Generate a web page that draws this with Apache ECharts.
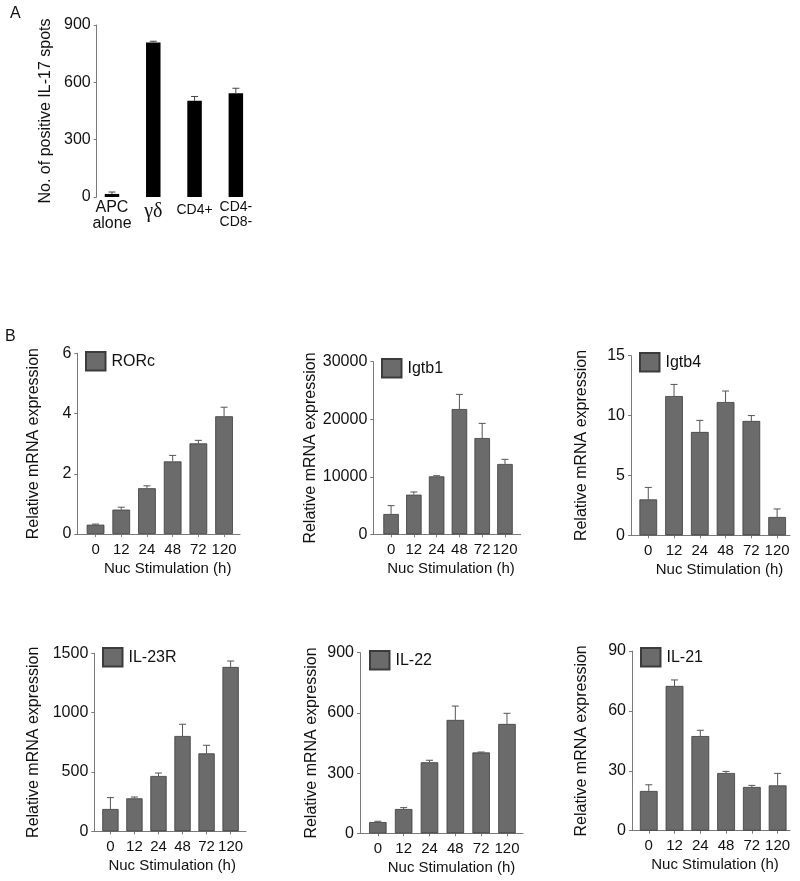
<!DOCTYPE html>
<html>
<head>
<meta charset="utf-8">
<script src="https://cdn.jsdelivr.net/npm/echarts@6/dist/echarts.min.js"></script>
<style>html,body{margin:0;padding:0;background:#fff}#c{width:800px;height:881px}</style>
</head>
<body>
<div id="c"></div>
<script>
// ---------- data ----------
const cellTypes = ['APC alone', 'γδ', 'CD4+', 'CD4- CD8-'];
const il17Spots = [16, 808, 503, 543];
const il17SpotsErrTop = [26, 815, 526, 569];

const timeLabels = ['0', '12', '24', '48', '72', '120'];
const rorc = [0.31, 0.81, 1.52, 2.41, 3.01, 3.91];
const rorcErrTop = [0.33, 0.89, 1.60, 2.61, 3.11, 4.21];
const igtb1 = [3530, 6890, 10070, 21770, 16730, 12220];
const igtb1ErrTop = [4980, 7350, 10190, 24320, 19280, 13030];
const igtb4 = [3.0, 11.63, 8.63, 11.13, 9.55, 1.53];
const igtb4ErrTop = [4.0, 12.6, 9.6, 12.05, 10.0, 2.2];
const il23r = [188, 278, 466, 803, 657, 1385];
const il23rErrTop = [284, 289, 491, 902, 725, 1435];
const il22 = [56, 121, 354, 565, 403, 545];
const il22ErrTop = [60, 128, 364, 634, 405, 598];
const il21 = [19.9, 72.5, 47.4, 28.9, 21.9, 22.7];
const il21ErrTop = [23.0, 75.5, 50.3, 29.7, 22.7, 28.7];

// ---------- layout ----------
const FONT = 'Liberation Sans, Arial, Helvetica, sans-serif';
const panels = [
  {name:'RORc', vals:rorc, errs:rorcErrTop, yMax:6, yInt:2, left:77.3, top:353.3, width:162.7, height:180.7, xMin:-0.71, xMax:5.62, barW:17.7, yGap:36, xShift:9, lg:[85,351]},
  {name:'Igtb1', vals:igtb1, errs:igtb1ErrTop, yMax:30000, yInt:10000, left:373.3, top:361.7, width:147.4, height:172.6, xMin:-0.78, xMax:5.69, barW:15.5, yGap:54.5, xShift:4, lg:[381,358]},
  {name:'Igtb4', vals:igtb4, errs:igtb4ErrTop, yMax:15, yInt:5, left:631, top:355.7, width:159, height:179.6, xMin:-0.67, xMax:5.5, barW:17.7, yGap:41.5, xShift:9, lg:[639,352]},
  {name:'IL-23R', vals:il23r, errs:il23rErrTop, yMax:1500, yInt:500, left:94.3, top:653.3, width:151.7, height:178, xMin:-0.67, xMax:5.64, barW:16.3, yGap:53, xShift:2, lg:[102,647]},
  {name:'IL-22', vals:il22, errs:il22ErrTop, yMax:900, yInt:300, left:360, top:652.7, width:163, height:180.6, xMin:-0.69, xMax:5.62, barW:17.5, yGap:40.5, xShift:10, lg:[369,650]},
  {name:'IL-21', vals:il21, errs:il21ErrTop, yMax:90, yInt:30, left:632, top:651, width:158, height:179.7, xMin:-0.65, xMax:5.48, barW:17.8, yGap:42.5, xShift:4, lg:[640,647]}
];

const grids = [], xAxes = [], yAxes = [], series = [], legends = [];

function errRender(color) {
  return function (params, api) {
    const i = api.value(0);
    const p1 = api.coord([i, api.value(1)]);
    const p2 = api.coord([i, api.value(2)]);
    const hw = 3.5;
    return {
      type: 'group',
      children: [
        {type:'line', shape:{x1:p1[0], y1:p1[1], x2:p2[0], y2:p2[1]}, style:{stroke:color, lineWidth:1}},
        {type:'line', shape:{x1:p2[0]-hw, y1:p2[1], x2:p2[0]+hw, y2:p2[1]}, style:{stroke:color, lineWidth:1}}
      ]
    };
  };
}

const axisColor = '#7a7a7a';

// Panel A
grids.push({left:96.7, top:25, width:159.8, height:172});
xAxes.push({
  gridIndex:0, type:'value', min:-0.37, max:3.5,
  axisLine:{show:false, onZero:false}, axisTick:{show:false}, splitLine:{show:false},
  axisLabel:{
    customValues:[0,1,2,3], margin:3, color:'#111', fontFamily:FONT, verticalAlign:'top',
    formatter: function (v) {
      const i = Math.round(v);
      const parts = cellTypes[i].split(' ');
      if (i === 1) return '{g|' + cellTypes[i] + '}';
      if (i === 0) return parts.map(p => '{a|' + p + '}').join('\n');
      if (i === 2) return '{d|' + cellTypes[i] + '}';
      return parts.map(p => '{c|' + p + '}').join('\n');
    },
    rich:{
      a:{fontSize:16, fontFamily:FONT, color:'#111', lineHeight:16},
      c:{fontSize:14, fontFamily:FONT, color:'#111', lineHeight:15},
      d:{fontSize:14, fontFamily:FONT, color:'#111', lineHeight:15, padding:[5,0,0,0]},
      g:{fontSize:20, fontFamily:'Liberation Serif, Times New Roman, serif', color:'#111', lineHeight:20, padding:[3,0,0,0]}
    }
  }
});
yAxes.push({
  gridIndex:0, type:'value', min:0, max:900, interval:300,
  name:'No. of positive IL-17 spots', nameLocation:'middle', nameGap:43.5,
  nameTextStyle:{fontSize:16, fontFamily:FONT, color:'#111'},
  axisLine:{show:true, onZero:false, lineStyle:{color:axisColor, width:1}},
  axisTick:{show:true, length:3, lineStyle:{color:axisColor}},
  splitLine:{show:false},
  axisLabel:{fontSize:16, fontFamily:FONT, color:'#111', margin:6, formatter: v => String(v)}
});
series.push({
  name:'IL-17', type:'bar', xAxisIndex:0, yAxisIndex:0, barWidth:14.5,
  data: il17Spots.map((v, i) => [i, v]),
  itemStyle:{color:'#000'}, silent:true, animation:false
});
series.push({
  name:'IL-17 err', type:'custom', xAxisIndex:0, yAxisIndex:0,
  data: il17Spots.map((v, i) => [i, v, il17SpotsErrTop[i]]),
  renderItem: errRender('#444'), silent:true, animation:false, z:3
});

// Panel B
panels.forEach((p, k) => {
  const gi = k + 1;
  grids.push({left:p.left, top:p.top, width:p.width, height:p.height});
  xAxes.push({
    gridIndex:gi, type:'value', min:p.xMin, max:p.xMax,
    name:'Nuc Stimulation (h)', nameLocation:'middle', nameGap:27,
    nameTextStyle:{fontSize:15, fontFamily:FONT, color:'#111', padding:[0,0,0,2*p.xShift]},
    axisLine:{show:true, onZero:false, lineStyle:{color:axisColor, width:1}},
    axisTick:{show:true, customValues:[0,1,2,3,4,5], length:3, lineStyle:{color:axisColor}},
    splitLine:{show:false},
    axisLabel:{
      customValues:[0,1,2,3,4,5], margin:8, fontSize:15, fontFamily:FONT, color:'#111',
      formatter: v => timeLabels[Math.round(v)]
    }
  });
  yAxes.push({
    gridIndex:gi, type:'value', min:0, max:p.yMax, interval:p.yInt,
    name:'Relative mRNA expression', nameLocation:'middle', nameGap:p.yGap,
    nameTextStyle:{fontSize:16, fontFamily:FONT, color:'#111'},
    axisLine:{show:true, onZero:false, lineStyle:{color:axisColor, width:1}},
    axisTick:{show:true, length:3, lineStyle:{color:axisColor}},
    splitLine:{show:false},
    axisLabel:{fontSize:16, fontFamily:FONT, color:'#111', margin:6, formatter: v => String(v)}
  });
  series.push({
    name:p.name, type:'bar', xAxisIndex:gi, yAxisIndex:gi, barWidth:p.barW,
    data: p.vals.map((v, i) => [i, v]),
    itemStyle:{color:'#6b6b6b', borderColor:'#3c3c3c', borderWidth:0.8},
    silent:true, animation:false
  });
  series.push({
    name:p.name + ' err', type:'custom', xAxisIndex:gi, yAxisIndex:gi,
    data: p.vals.map((v, i) => [i, v, p.errs[i]]),
    renderItem: errRender('#555'), silent:true, animation:false, z:3
  });
  legends.push({
    data:[p.name], left:p.lg[0], top:p.lg[1], padding:0, icon:'rect',
    itemWidth:19.5, itemHeight:18.5, itemGap:0, selectedMode:false,
    textStyle:{fontSize:16, fontFamily:FONT, color:'#111', padding:[0,0,0,1]}
  });
});

const chart = echarts.init(document.getElementById('c'), null, {renderer:'canvas'});
chart.setOption({
  backgroundColor:'#fff',
  animation:false,
  title:[
    {text:'A', left:10, top:6, padding:0, textStyle:{fontSize:16, fontWeight:'normal', fontFamily:FONT, color:'#111'}},
    {text:'B', left:5, top:329, padding:0, textStyle:{fontSize:16, fontWeight:'normal', fontFamily:FONT, color:'#111'}}
  ],
  legend: legends,
  grid: grids,
  xAxis: xAxes,
  yAxis: yAxes,
  series: series
});
</script>
</body>
</html>
